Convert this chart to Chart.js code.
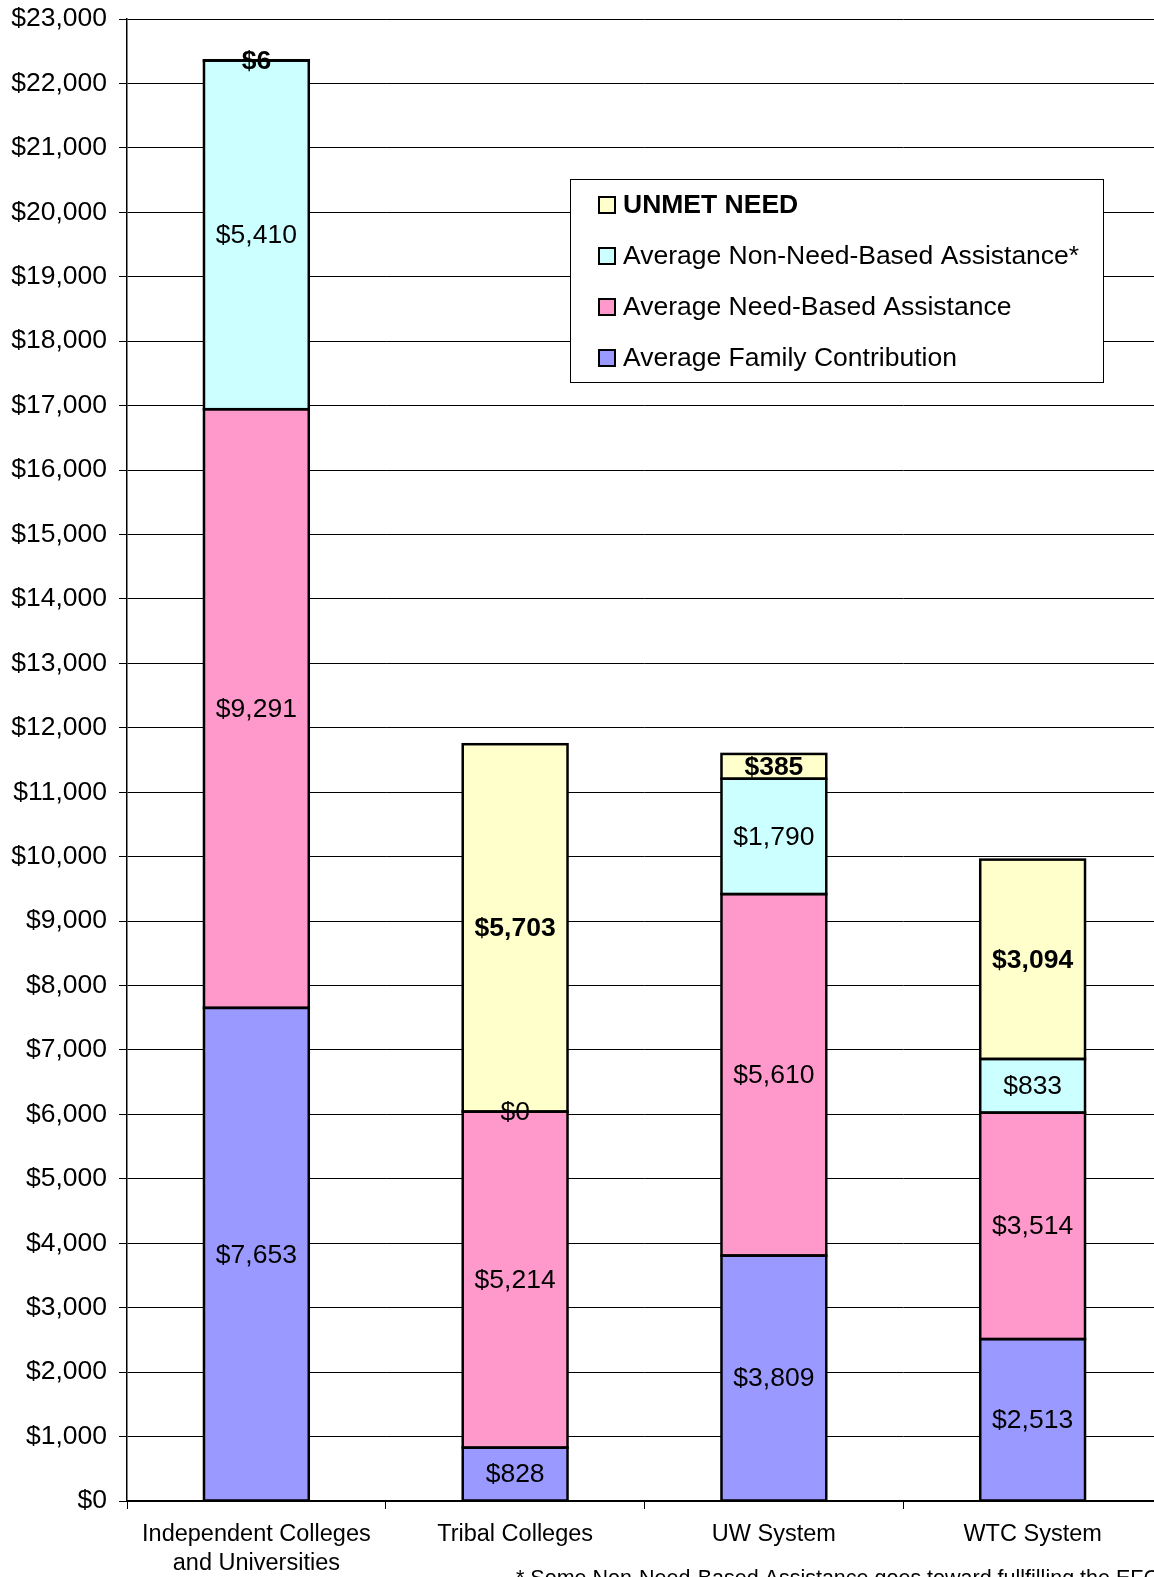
<!DOCTYPE html>
<html>
<head>
<meta charset="utf-8">
<script src="https://cdn.jsdelivr.net/npm/chart.js@4.4.0/dist/chart.umd.min.js"></script>
<style>
html,body{margin:0;padding:0;background:#fff;overflow:hidden;}
#wrap{position:relative;width:1154px;height:1577px;overflow:hidden;}
</style>
</head>
<body>
<div id="wrap"><canvas id="c" width="1162" height="1577"></canvas></div>
<script>
const categories = [["Independent Colleges","and Universities"], "Tribal Colleges", "UW System", "WTC System"];
const familyContribution = [7653, 828, 3809, 2513];
const needBased = [9291, 5214, 5610, 3514];
const nonNeedBased = [5410, 0, 1790, 833];
const unmetNeed = [6, 5703, 385, 3094];
const yTicks = [0,1000,2000,3000,4000,5000,6000,7000,8000,9000,10000,11000,12000,13000,14000,15000,16000,17000,18000,19000,20000,21000,22000,23000];
const footnote = "* Some Non-Need-Based Assistance goes toward fullfilling the EFC";

const FONT = "'Liberation Sans', Arial, sans-serif";
const fmt = v => "$" + v.toLocaleString("en-US");

const datasets = [
  {label:"Average Family Contribution", data:familyContribution, backgroundColor:"#9999FF", bold:false},
  {label:"Average Need-Based Assistance", data:needBased, backgroundColor:"#FF99CC", bold:false},
  {label:"Average Non-Need-Based Assistance*", data:nonNeedBased, backgroundColor:"#CCFFFF", bold:false},
  {label:"UNMET NEED", data:unmetNeed, backgroundColor:"#FFFFCC", bold:true}
].map(d => Object.assign(d, {borderWidth:0, categoryPercentage:1, barPercentage:0.405}));

const labelsPlugin = {
  id:"vals",
  afterDatasetsDraw(chart){
    const ctx = chart.ctx;
    ctx.save();
    ctx.strokeStyle = "#000";
    ctx.lineWidth = 2.5;
    chart.data.datasets.forEach((ds, i) => {
      const meta = chart.getDatasetMeta(i);
      meta.data.forEach(el => {
        const w = el.width;
        ctx.strokeRect(el.x - w / 2, Math.min(el.y, el.base), w, Math.abs(el.base - el.y));
      });
    });
    ctx.fillStyle = "#000";
    ctx.textAlign = "center";
    ctx.textBaseline = "middle";
    chart.data.datasets.forEach((ds, i) => {
      const meta = chart.getDatasetMeta(i);
      ctx.font = (ds.bold ? "bold " : "") + "26.5px " + FONT;
      meta.data.forEach((el, j) => {
        const yc = (el.y + el.base) / 2;
        ctx.fillText(fmt(ds.data[j]), el.x, yc + 1);
      });
    });
    ctx.restore();
  }
};

const legendPlugin = {
  id:"boxlegend",
  afterDraw(chart){
    const ctx = chart.ctx;
    ctx.save();
    ctx.fillStyle = "#fff";
    ctx.fillRect(570, 179, 534, 204);
    ctx.strokeStyle = "#000";
    ctx.lineWidth = 1;
    ctx.strokeRect(570.5, 179.5, 533, 203);
    const order = [3,2,1,0];
    const ys = [205, 256, 307, 358];
    order.forEach((di, k) => {
      const ds = chart.data.datasets[di];
      const y = ys[k];
      ctx.fillStyle = ds.backgroundColor;
      ctx.fillRect(599, y - 8, 16, 16);
      ctx.lineWidth = 2;
      ctx.strokeStyle = "#000";
      ctx.strokeRect(599, y - 8, 16, 16);
      ctx.fillStyle = "#000";
      ctx.font = (ds.bold ? "bold " : "") + "26.5px " + FONT;
      ctx.textAlign = "left";
      ctx.textBaseline = "middle";
      ctx.fillText(ds.label, 623, y + 1);
    });
    ctx.font = "21.5px " + FONT;
    ctx.textAlign = "left";
    ctx.textBaseline = "alphabetic";
    ctx.fillText(footnote, 516, 1585);
    ctx.restore();
  }
};

new Chart(document.getElementById("c"), {
  type:"bar",
  data:{labels:categories, datasets},
  options:{
    responsive:false,
    animation:false,
    devicePixelRatio:1,
    layout:{padding:{top:19, right:0, left:0, bottom:0}},
    plugins:{legend:{display:false}, tooltip:{enabled:false}},
    scales:{
      x:{
        stacked:true,
        grid:{drawOnChartArea:false, drawTicks:true, tickLength:8, color:"#000", offset:true},
        border:{color:"#000", width:2},
        ticks:{color:"#000", font:{family:FONT, size:23.5, lineHeight:1.23}, padding:11, maxRotation:0, autoSkip:false},
        afterFit(s){ s.height = 76; s.paddingLeft = 0; s.paddingRight = 0; }
      },
      y:{
        stacked:true,
        min:0, max:23000,
        afterBuildTicks(s){ s.ticks = yTicks.map(v => ({value:v})); },
        grid:{color:"#000", lineWidth:1, tickLength:8, drawTicks:true},
        border:{color:"#000", width:1.5},
        ticks:{color:"#000", font:{family:FONT, size:26.5}, padding:12, callback:v => fmt(v)},
        afterFit(s){ s.width = 127; s.paddingTop = 0; s.paddingBottom = 0; }
      }
    }
  },
  plugins:[labelsPlugin, legendPlugin]
});
</script>
</body>
</html>
